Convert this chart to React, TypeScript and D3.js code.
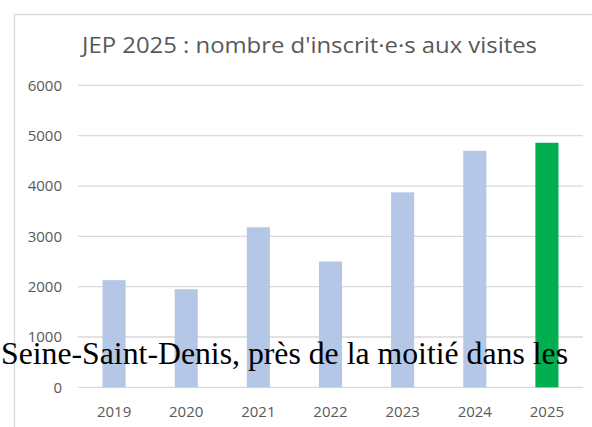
import React from 'react';
import * as d3 from 'd3';

const years = ['2019', '2020', '2021', '2022', '2023', '2024', '2025'];
const inscrits = [2130, 1950, 3180, 2500, 3875, 4700, 4860];
const yTicks = [0, 1000, 2000, 3000, 4000, 5000, 6000];

const title = "JEP 2025 : nombre d'inscrit·e·s aux visites";
const overlay = 'Seine-Saint-Denis, près de la moitié dans les';

const W = 592;
const H = 427;

const App = () => {
    const x = d3.scaleBand<string>()
        .domain(years)
        .range([78, 583])
        .paddingInner(0.68)
        .paddingOuter(0.34);

    const y = d3.scaleLinear()
        .domain([0, 6000])
        .range([387.3, 85.4]);

    const font = "'Open Sans', 'Noto Sans', sans-serif";

    return (
        <div style={{ position: 'fixed', left: 0, top: 0 }}>
            <svg width={W} height={H} style={{ display: 'block', background: '#fff' }}>
                {/* chart frame, runs off the right and bottom edges */}
                <rect x={14.5} y={14.5} width={W + 20} height={H + 20}
                      fill="#fff" stroke="#d9d9d9" strokeWidth={1.3} />

                <text x={82} y={52.7} fontFamily={font} fontSize={22.5}
                      textLength={455} lengthAdjust="spacingAndGlyphs"
                      fill="#595959">{title}</text>

                {yTicks.map((t) => (
                    <g key={t}>
                        <line x1={78} x2={583} y1={y(t)} y2={y(t)}
                              stroke="#d9d9d9" strokeWidth={1.3} />
                        <text x={62} y={y(t)} dy="0.36em" textAnchor="end"
                              fontFamily={font} fontSize={15} fill="#595959">{t}</text>
                    </g>
                ))}

                {years.map((yr, i) => (
                    <rect key={yr}
                          x={x(yr)}
                          y={y(inscrits[i])}
                          width={x.bandwidth()}
                          height={y(0) - y(inscrits[i])}
                          fill={yr === '2025' ? '#00b050' : '#b4c7e7'} />
                ))}

                {years.map((yr) => (
                    <text key={yr} x={(x(yr) ?? 0) + x.bandwidth() / 2} y={417.3}
                          textAnchor="middle" fontFamily={font} fontSize={15}
                          fill="#595959">{yr}</text>
                ))}

                <text x={1} y={363.7} fontFamily="'Liberation Serif', 'Times New Roman', serif"
                      fontSize={31} textLength={567} lengthAdjust="spacingAndGlyphs"
                      fill="#000">{overlay}</text>
            </svg>
        </div>
    );
};

export default App;
